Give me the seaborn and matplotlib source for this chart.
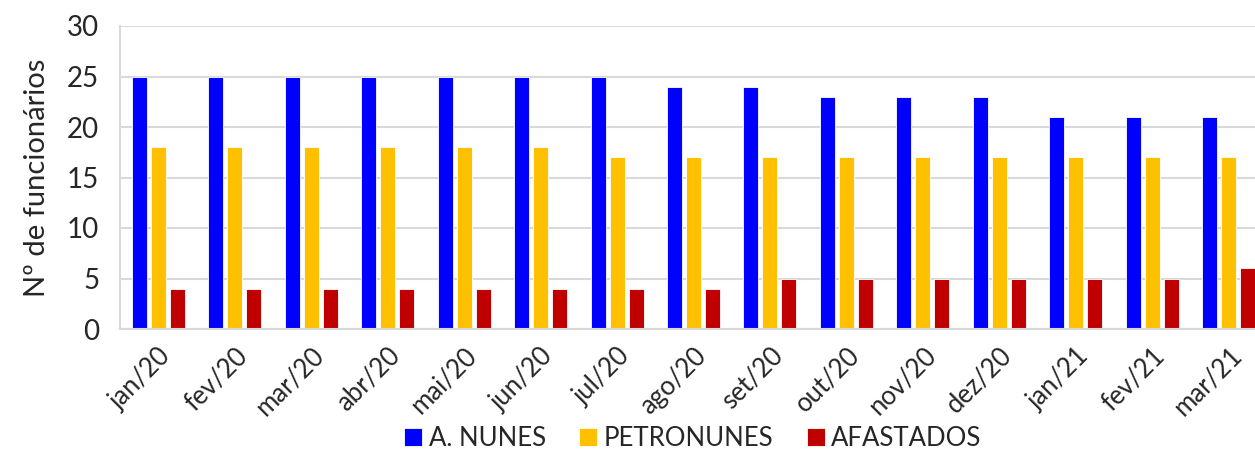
import seaborn as sns
import matplotlib.pyplot as plt
import pandas as pd

# dados
meses = ['jan/20', 'fev/20', 'mar/20', 'abr/20', 'mai/20', 'jun/20', 'jul/20', 'ago/20',
         'set/20', 'out/20', 'nov/20', 'dez/20', 'jan/21', 'fev/21', 'mar/21']
a_nunes = [25, 25, 25, 25, 25, 25, 25, 24, 24, 23, 23, 23, 21, 21, 21]
petronunes = [18, 18, 18, 18, 18, 18, 17, 17, 17, 17, 17, 17, 17, 17, 17]
afastados = [4, 4, 4, 4, 4, 4, 4, 4, 5, 5, 5, 5, 5, 5, 6]
series = ['A. NUNES', 'PETRONUNES', 'AFASTADOS']
cores = ['#0000FF', '#FFC000', '#C00000']

df = pd.DataFrame({'mes': meses * 3,
                   'serie': [series[0]] * 15 + [series[1]] * 15 + [series[2]] * 15,
                   'valor': a_nunes + petronunes + afastados})

sns.set_style('white')
plt.rcParams['font.family'] = ['Lato', 'DejaVu Sans']

fig = plt.figure(figsize=(12.55, 4.49), dpi=100)
ax = fig.add_axes([120 / 1255, 1 - 329 / 449, 1147 / 1255, 303 / 449])

sns.barplot(data=df, x='mes', y='valor', hue='serie', palette=cores, ax=ax,
            width=0.745, gap=0.21, edgecolor='white', linewidth=0.6, saturation=1)

ax.set_ylim(0, 30)
ax.set_yticks(range(0, 31, 5))
ax.set_xlim(-0.5, len(meses) - 0.5)
ax.grid(axis='y', color='#d9d9d9', linewidth=1.5)
ax.set_axisbelow(True)
for s in ['top', 'right']:
    ax.spines[s].set_visible(False)
for s in ['left', 'bottom']:
    ax.spines[s].set_color('#d9d9d9')
    ax.spines[s].set_linewidth(1.5)

ax.set_ylabel('Nº de funcionários', fontsize=21, labelpad=12)
ax.set_xlabel('')
ax.tick_params(axis='y', labelsize=20, length=9, color='#d9d9d9', width=1.5, pad=6)
ax.tick_params(axis='x', which='major', length=0, labelsize=18.5, pad=10)
ax.set_xticks([i - 0.5 for i in range(len(meses) + 1)], minor=True)
ax.tick_params(axis='x', which='minor', length=8, color='#d9d9d9', width=1.5)
plt.setp(ax.get_xticklabels(), rotation=45, ha='right', rotation_mode='anchor')

ax.get_legend().remove()
handles, labels = ax.get_legend_handles_labels()
fig.legend(handles, labels, loc='lower center', bbox_to_anchor=(0.552, -0.055), ncol=3,
           frameon=False, fontsize=18.5, handlelength=0.7, handleheight=0.7,
           handletextpad=0.25, columnspacing=1.3)

fig.savefig('out.png', dpi=100)
